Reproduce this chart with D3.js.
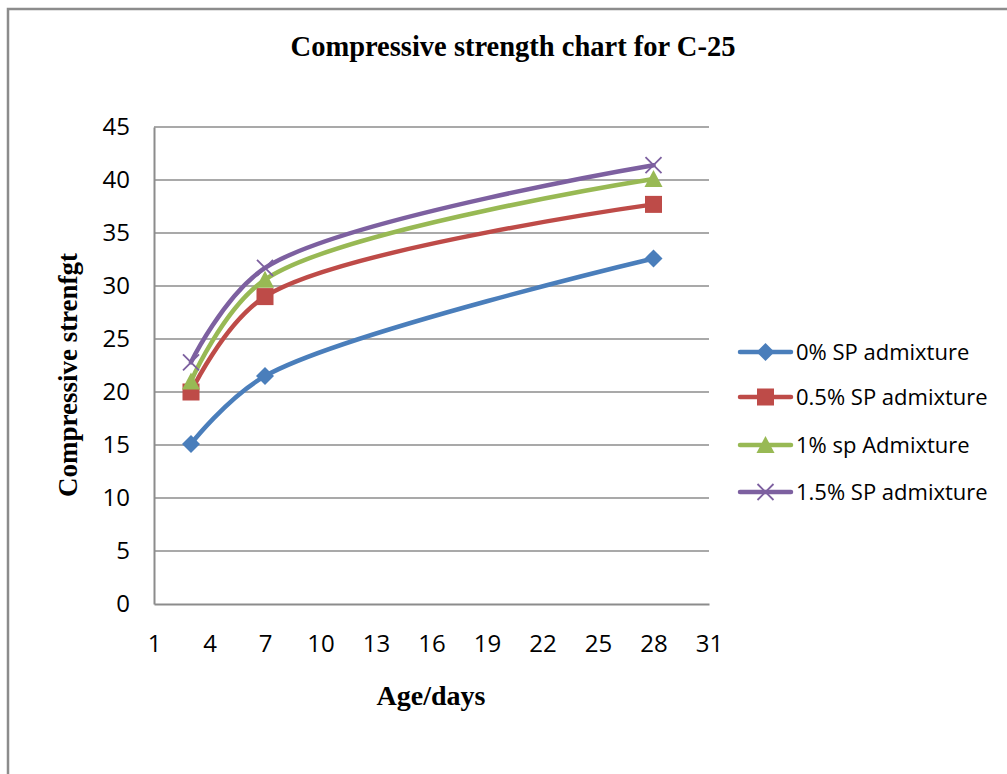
<!DOCTYPE html>
<html>
<head>
<meta charset="utf-8">
<script src="https://cdn.jsdelivr.net/npm/d3@7"></script>
<style>
  html, body { margin: 0; padding: 0; background: #fff; }
  svg { display: block; }
</style>
</head>
<body>
<svg id="chart" width="1007" height="774"></svg>
<script>
const ages = [3, 7, 28];
const series0 = [15.1, 21.5, 32.6];
const series05 = [20.0, 29.0, 37.7];
const series1 = [21.0, 30.6, 40.1];
const series15 = [22.8, 31.7, 41.4];
const seriesNames = ["0% SP admixture", "0.5% SP admixture", "1% sp Admixture", "1.5% SP admixture"];
const xTicks = [1, 4, 7, 10, 13, 16, 19, 22, 25, 28, 31];
const yTicks = [0, 5, 10, 15, 20, 25, 30, 35, 40, 45];

const seriesValues = [series0, series05, series1, series15];
const colors = ["#4a7ebb", "#be4b48", "#98b954", "#7d60a0"];
const markers = ["diamond", "square", "triangle", "x"];

const svg = d3.select("#chart");
const sansFont = "'Open Sans', 'Noto Sans', sans-serif";
const serifFont = "'Liberation Serif', 'Times New Roman', serif";

// outer frame
svg.append("path")
  .attr("d", "M8,780 L8,9 L1010,9")
  .attr("fill", "none").attr("stroke", "#8c8c8c").attr("stroke-width", 2.5);

const x = d3.scaleLinear().domain([1, 31]).range([154, 709]);
const y = d3.scaleLinear().domain([0, 45]).range([604, 127]);

// gridlines
svg.append("g").selectAll("line").data(yTicks.filter(d => d > 0)).join("line")
  .attr("x1", x(1)).attr("x2", x(31))
  .attr("y1", d => y(d)).attr("y2", d => y(d))
  .attr("stroke", "#8c8c8c").attr("stroke-width", 1.5);

// axes
const yAxis = d3.axisLeft(y).tickValues(yTicks).tickSize(0).tickPadding(24);
const gy = svg.append("g").attr("transform", `translate(${x(1)},0)`).call(yAxis);
gy.select(".domain").attr("stroke", "#8c8c8c").attr("stroke-width", 2);
gy.selectAll("text").attr("font-family", sansFont).attr("font-size", 24).attr("fill", "#000");

const xAxis = d3.axisBottom(x).tickValues(xTicks).tickSize(0).tickPadding(31);
const gx = svg.append("g").attr("transform", `translate(0,${y(0)})`).call(xAxis);
gx.select(".domain").attr("stroke", "#8c8c8c").attr("stroke-width", 2);
gx.selectAll("text").attr("font-family", sansFont).attr("font-size", 24).attr("fill", "#000");

// lines
const line = d3.line().x(d => x(d[0])).y(d => y(d[1])).curve(d3.curveCatmullRom.alpha(0.5));

function drawMarker(g, type, cx, cy, color) {
  if (type === "diamond") {
    g.append("path").attr("d", `M${cx},${cy-9} L${cx+9},${cy} L${cx},${cy+9} L${cx-9},${cy} Z`).attr("fill", color);
  } else if (type === "square") {
    g.append("rect").attr("x", cx-8.5).attr("y", cy-8.5).attr("width", 17).attr("height", 17).attr("fill", color);
  } else if (type === "triangle") {
    g.append("path").attr("d", `M${cx},${cy-9} L${cx+9},${cy+8} L${cx-9},${cy+8} Z`).attr("fill", color);
  } else {
    g.append("path").attr("d", `M${cx-8},${cy-8} L${cx+8},${cy+8} M${cx+8},${cy-8} L${cx-8},${cy+8}`)
      .attr("stroke", color).attr("stroke-width", 1.8).attr("fill", "none");
  }
}

seriesValues.forEach((vals, i) => {
  const pts = ages.map((a, j) => [a, vals[j]]);
  svg.append("path").attr("d", line(pts)).attr("fill", "none")
    .attr("stroke", colors[i]).attr("stroke-width", 4.5).attr("stroke-linecap", "round");
  const g = svg.append("g");
  pts.forEach(p => drawMarker(g, markers[i], x(p[0]), y(p[1]), colors[i]));
});

// legend
const legendY = [352, 397, 445, 492];
seriesNames.forEach((name, i) => {
  const g = svg.append("g");
  g.append("line").attr("x1", 740).attr("x2", 791).attr("y1", legendY[i]).attr("y2", legendY[i])
    .attr("stroke", colors[i]).attr("stroke-width", 4.5).attr("stroke-linecap", "round");
  drawMarker(g, markers[i], 765.5, legendY[i], colors[i]);
  g.append("text").attr("x", 796).attr("y", legendY[i]).attr("dy", "0.36em")
    .attr("font-family", sansFont).attr("font-size", 22).attr("fill", "#000").text(name);
});

// titles
svg.append("text").attr("x", 513).attr("y", 56).attr("text-anchor", "middle")
  .attr("font-family", serifFont).attr("font-weight", "bold").attr("font-size", 28.5)
  .text("Compressive strength chart for C-25");
svg.append("text").attr("x", 431).attr("y", 705).attr("text-anchor", "middle")
  .attr("font-family", serifFont).attr("font-weight", "bold").attr("font-size", 28)
  .text("Age/days");
svg.append("text").attr("transform", "translate(77,375) rotate(-90)").attr("text-anchor", "middle")
  .attr("font-family", serifFont).attr("font-weight", "bold").attr("font-size", 27)
  .text("Compressive strenfgt");
</script>
</body>
</html>
